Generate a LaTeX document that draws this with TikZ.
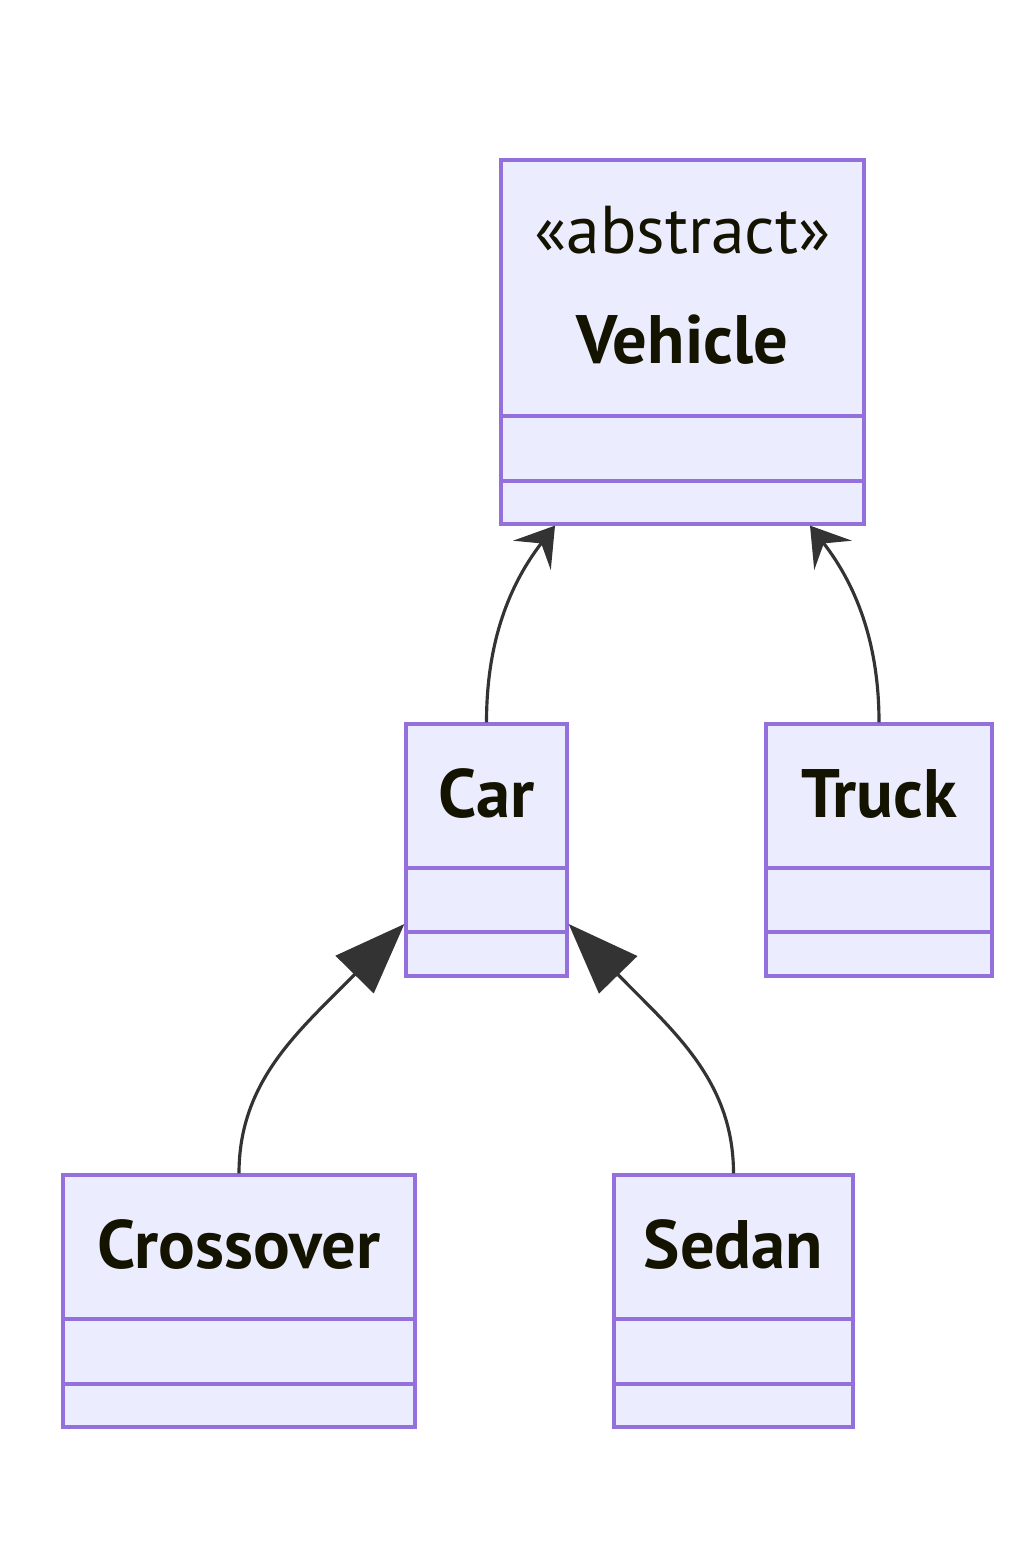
\documentclass[tikz,border=0pt]{standalone}
\usepackage{fontspec}
\setmainfont{PT Sans}
\usetikzlibrary{arrows.meta}
\definecolor{classfill}{HTML}{ECECFF}
\definecolor{classline}{HTML}{9370DB}
\definecolor{edgeline}{HTML}{333333}
\definecolor{classtext}{HTML}{131300}

\begin{document}
\begin{tikzpicture}[x=0.02cm,y=-0.02cm,
    classbox/.style={draw=classline,fill=classfill,line width=1.9pt,inner sep=0pt},
    divider/.style={draw=classline,line width=1.9pt},
    classname/.style={font=\fontsize{39}{44}\selectfont\bfseries,text=classtext},
    stereotype/.style={font=\fontsize{38.5}{44}\selectfont,text=classtext},
    assoc/.style={draw=edgeline,line width=1.8pt,-{Stealth[length=0.75cm,width=0.95cm,inset=0.3cm]}},
    extends/.style={draw=edgeline,line width=1.8pt,-{Triangle[length=1.42cm,width=1.06cm]}}]

        % Background
        \useasboundingbox[fill=white] (0,0) rectangle (1024,1557);

        % Classes
        \node[classbox,minimum width=7.26cm,minimum height=7.28cm] (vehicle) at (682.5,342) {};
        \node[classbox,minimum width=3.22cm,minimum height=5.04cm] (car) at (486.5,850) {};
        \node[classbox,minimum width=4.52cm,minimum height=5.04cm] (truck) at (879,850) {};
        \node[classbox,minimum width=7.04cm,minimum height=5.04cm] (crossover) at (239,1301) {};
        \node[classbox,minimum width=4.78cm,minimum height=5.04cm] (sedan) at (733.5,1301) {};

        % Compartments
        \foreach \n/\a/\b in {vehicle/416/481,car/868/932,truck/868/932,crossover/1319/1384,sedan/1319/1384} {
            \draw[divider] (\n.west |- 0,\a) -- (\n.east |- 0,\a);
            \draw[divider] (\n.west |- 0,\b) -- (\n.east |- 0,\b);
        }

        % Labels
        \node[stereotype] (vehicle-stereo) at (682.5,230) {«abstract»};
        \node[classname] (vehicle-name) at (682.5,340) {Vehicle};
        \node[classname] (car-name) at (486.5,794) {Car};
        \node[classname] (truck-name) at (879,794) {Truck};
        \node[classname] (crossover-name) at (239,1245) {Crossover};
        \node[classname] (sedan-name) at (733.5,1245) {Sedan};

        % Ends on Vehicle
        \coordinate (vehicle-left) at (555,0 |- vehicle.south);
        \coordinate (vehicle-right) at (810,0 |- vehicle.south);
        \coordinate (car-left) at (car.west |- 0,924);
        \coordinate (car-right) at (car.east |- 0,924);

        % Relations
        \draw[assoc] (car.north) .. controls (486.5,650) and (505,590) .. (vehicle-left);
        \draw[assoc] (truck.north) .. controls (879,650) and (860,590) .. (vehicle-right);
        \draw[extends] (crossover.north) .. controls (239,1080) and (300,1030) .. (car-left);
        \draw[extends] (sedan.north) .. controls (733.5,1080) and (672,1030) .. (car-right);

    \end{tikzpicture}
\end{document}
